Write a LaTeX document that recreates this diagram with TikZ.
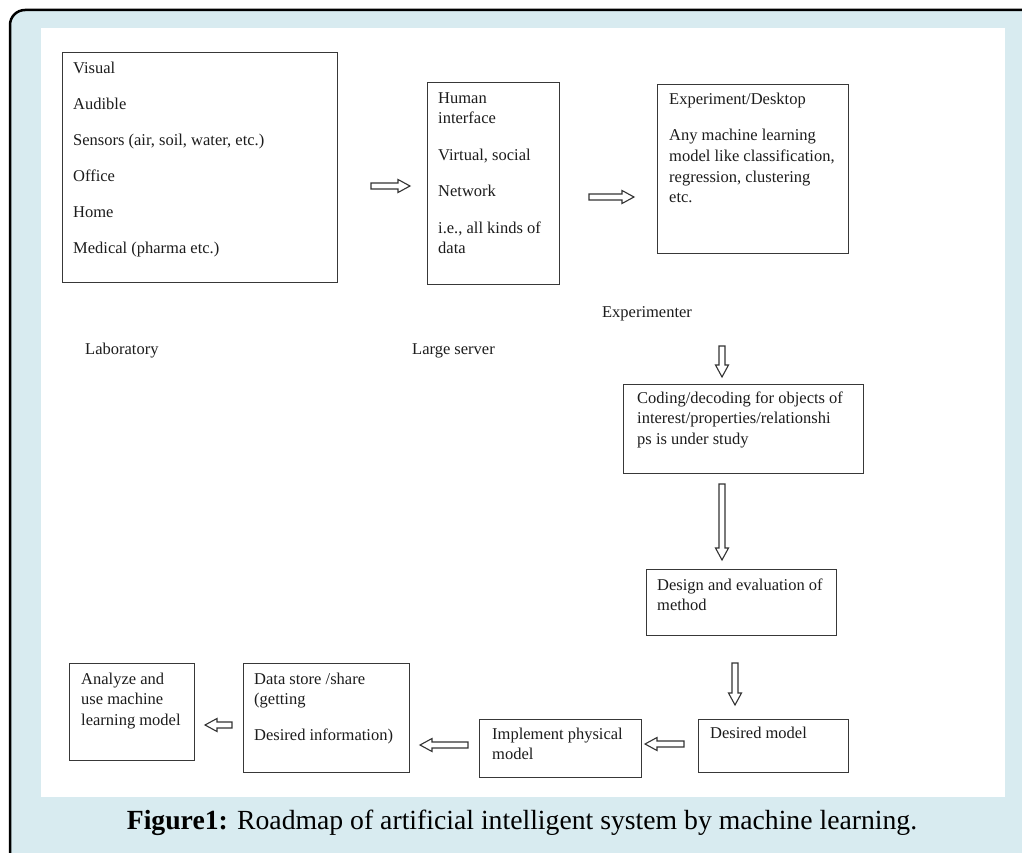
\documentclass[tikz,border=0pt]{standalone}
\usepackage{fontspec}
\setmainfont{Liberation Serif}
\usetikzlibrary{calc}
\definecolor{bgblue}{HTML}{D8EBF0}
\definecolor{boxline}{HTML}{383838}
\definecolor{txtcol}{HTML}{1C1C1C}
\newcommand\fstrut{\rule{0pt}{12pt}}
\newcommand\hollowarr[2]{%
  \coordinate (#1h) at ($(#2)!12pt!(#1)$);
  \draw[harrow] ($(#1)!3pt!90:(#2)$) -- ($(#1h)!3pt!90:(#2)$) -- ($(#1h)!6.5pt!90:(#2)$) -- (#2)
     -- ($(#1h)!6.5pt!-90:(#2)$) -- ($(#1h)!3pt!-90:(#2)$) -- ($(#1)!3pt!-90:(#2)$) -- cycle;}
\begin{document}
\begin{tikzpicture}[x=1pt,y=-1pt,
  box/.style={draw=boxline, line width=1.3pt, rectangle, inner sep=0pt, anchor=north west},
  txt/.style={anchor=north west, inner sep=0pt, align=left, text=txtcol, font=\fontsize{16.5}{20.7}\selectfont},
  lbl/.style={anchor=base west, inner sep=0pt, text=txtcol, font=\fontsize{16.5}{20.7}\selectfont},
  harrow/.style={draw=black!80, line width=1.1pt, fill=white, line join=miter}]
\useasboundingbox (0,0) rectangle (1022,853);
% frame
\fill[bgblue] (10,853) [rounded corners=15pt] -- (10,10) [sharp corners] -- (1022,10) -- (1022,853) -- cycle;
\draw[black, line width=2.5pt] (10,853) [rounded corners=15pt] -- (10,10) [sharp corners] -- (1022,10);
\fill[white] (41,28) rectangle (1005,797);
% boxes
\node[box, minimum width=275pt, minimum height=230pt] (lab) at (62,52) {};
\node[box, minimum width=132pt, minimum height=202pt] (hi) at (427,82) {};
\node[box, minimum width=191pt, minimum height=169pt] (exp) at (657,84) {};
\node[box, minimum width=240pt, minimum height=89pt] (cod) at (623,384) {};
\node[box, minimum width=190pt, minimum height=66pt] (des) at (646,569) {};
\node[box, minimum width=150pt, minimum height=53pt] (dm) at (698,719) {};
\node[box, minimum width=162pt, minimum height=58pt] (imp) at (479,719) {};
\node[box, minimum width=166pt, minimum height=109pt] (ds) at (243,663) {};
\node[box, minimum width=125pt, minimum height=97pt] (an) at (69,663) {};
% texts (top = first baseline - 12)
\node[txt] (labt) at (73,61) {\fstrut Visual\\[15.3pt] Audible\\[15.3pt] Sensors (air, soil, water, etc.)\\[15.3pt] Office\\[15.3pt] Home\\[15.3pt] Medical (pharma etc.)};
\node[txt] (hit) at (438,91) {\fstrut Human\\ interface\\[15.8pt] Virtual, social\\[15.3pt] Network\\[16pt] i.e., all kinds of\\ data};
\node[txt] (expt) at (669,92) {\fstrut Experiment/Desktop\\[16pt] Any machine learning\\ model like classification,\\ regression, clustering\\ etc.};
\node[lbl, anchor=base] (exper) at (647,317) {Experimenter};
\node[lbl] (labo) at (85,354) {Laboratory};
\node[lbl] (lserv) at (412,354) {Large server};
\node[txt] (codt) at (637,391) {\fstrut Coding/decoding for objects of\\ interest/properties/relationshi\\ ps is under study};
\node[txt] (dest) at (657,578) {\fstrut Design and evaluation of\\ method};
\node[txt] (dmt) at (710,726) {\fstrut Desired model};
\node[txt] (impt) at (492,727) {\fstrut Implement physical\\ model};
\node[txt] (dst) at (254,672) {\fstrut Data store /share\\ (getting\\[15.3pt] Desired information)};
\node[txt] (ant) at (81,672) {\fstrut Analyze and\\ use machine\\ learning model};
% arrows
\coordinate (a1s) at (371,186); \coordinate (a1e) at (410,186);
\coordinate (a2s) at (589,197); \coordinate (a2e) at (634,197);
\coordinate (a3s) at (722,346); \coordinate (a3e) at (722,377);
\coordinate (a4s) at (722,484); \coordinate (a4e) at (722,560);
\coordinate (a5s) at (735,663); \coordinate (a5e) at (735,705);
\coordinate (a6s) at (684,744); \coordinate (a6e) at (645,744);
\coordinate (a7s) at (468,745); \coordinate (a7e) at (420,745);
\coordinate (a8s) at (232,725); \coordinate (a8e) at (205,725);
\hollowarr{a1s}{a1e}
\hollowarr{a2s}{a2e}
\hollowarr{a3s}{a3e}
\hollowarr{a4s}{a4e}
\hollowarr{a5s}{a5e}
\hollowarr{a6s}{a6e}
\hollowarr{a7s}{a7e}
\hollowarr{a8s}{a8e}
% caption
\node[anchor=base, inner sep=0pt, text=black, font=\fontsize{27.7}{33}\selectfont] (cap) at (522,829) {\textbf{Figure1:} Roadmap of artificial intelligent system by machine learning.};
\end{tikzpicture}
\end{document}
